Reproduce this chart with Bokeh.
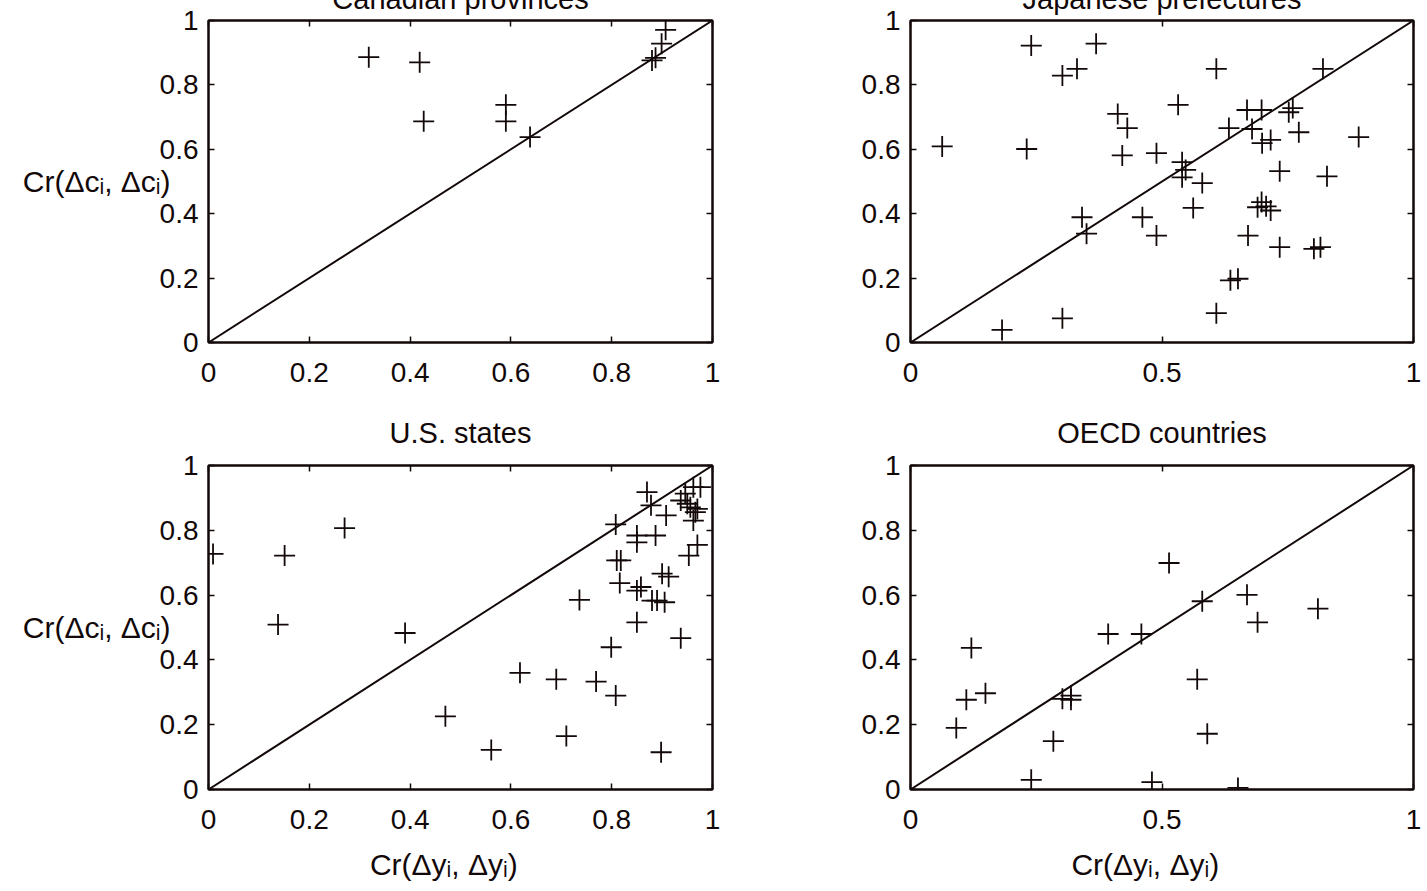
from bokeh.plotting import figure
from bokeh.models import (Range1d, FixedTicker, NumeralTickFormatter, LinearAxis,
                          CustomLabelingPolicy)
from bokeh.layouts import column, row
from bokeh.embed import file_html
from bokeh.resources import INLINE

# ---------------- data ----------------
titles = ["Canadian provinces", "Japanese prefectures", "U.S. states", "OECD countries"]
y_label = "Cr(\u0394c\u1d62, \u0394c\u1d62)"
x_label = "Cr(\u0394y\u1d62, \u0394y\u1d62)"

ticks_fine = [0, 0.2, 0.4, 0.6, 0.8, 1]
ticks_coarse = [0, 0.5, 1]

diag_x = [0, 1]
diag_y = [0, 1]

can_x = [0.318, 0.419, 0.427, 0.590, 0.590, 0.638, 0.880, 0.887, 0.899, 0.907]
can_y = [0.886, 0.870, 0.687, 0.738, 0.687, 0.638, 0.876, 0.884, 0.928, 0.971]

jp_x = [0.240, 0.369, 0.302, 0.331, 0.608, 0.820, 0.063, 0.231, 0.412, 0.431,
        0.421, 0.489, 0.532, 0.633, 0.669, 0.698, 0.679, 0.752, 0.760, 0.772,
        0.699, 0.716, 0.891, 0.540, 0.547, 0.540, 0.580, 0.734, 0.828, 0.562,
        0.698, 0.690, 0.707, 0.716, 0.341, 0.350, 0.461, 0.489, 0.671, 0.734,
        0.802, 0.815, 0.636, 0.651, 0.608, 0.182, 0.302]
jp_y = [0.922, 0.928, 0.829, 0.850, 0.850, 0.850, 0.609, 0.601, 0.710, 0.666,
        0.581, 0.588, 0.738, 0.666, 0.722, 0.722, 0.663, 0.715, 0.728, 0.653,
        0.619, 0.629, 0.638, 0.560, 0.536, 0.513, 0.495, 0.532, 0.516, 0.418,
        0.436, 0.420, 0.423, 0.410, 0.389, 0.338, 0.389, 0.332, 0.332, 0.296,
        0.291, 0.296, 0.193, 0.198, 0.091, 0.039, 0.075]

us_x = [0.009, 0.151, 0.270, 0.138, 0.390, 0.470, 0.561, 0.618, 0.690, 0.710,
        0.736, 0.769, 0.799, 0.808, 0.808, 0.810, 0.818, 0.816, 0.850, 0.850,
        0.887, 0.870, 0.878, 0.908, 0.858, 0.850, 0.880, 0.890, 0.905, 0.900,
        0.913, 0.850, 0.937, 0.898, 0.953, 0.970, 0.937, 0.946, 0.962, 0.976,
        0.956, 0.970, 0.966, 0.962, 0.950]
us_y = [0.727, 0.722, 0.807, 0.509, 0.483, 0.226, 0.122, 0.360, 0.340, 0.165,
        0.585, 0.333, 0.439, 0.290, 0.818, 0.707, 0.707, 0.637, 0.784, 0.763,
        0.784, 0.918, 0.877, 0.846, 0.625, 0.614, 0.583, 0.583, 0.578, 0.666,
        0.657, 0.516, 0.467, 0.115, 0.722, 0.755, 0.892, 0.913, 0.933, 0.933,
        0.871, 0.866, 0.856, 0.830, 0.882]

oecd_x = [0.514, 0.580, 0.669, 0.690, 0.810, 0.393, 0.459, 0.121, 0.149, 0.111,
          0.091, 0.302, 0.319, 0.319, 0.284, 0.570, 0.590, 0.240, 0.480, 0.651]
oecd_y = [0.699, 0.581, 0.601, 0.516, 0.558, 0.480, 0.480, 0.437, 0.297, 0.277,
          0.190, 0.280, 0.290, 0.277, 0.149, 0.340, 0.172, 0.030, 0.023, 0.005]

# ---------------- styling ----------------
FONT = "Liberation Sans"
INK = "#120808"
TICK_SIZE = "28px"
LABEL_SIZE = "30px"
TITLE_SIZE = "29px"
SHIFT = 40  # top row is pulled up so its titles run off the top of the page

NO_LABELS = """
const all = Array.from(indices);
for (const i of all) { indices.set(i, false); }
return indices;
"""


def make_panel(xs, ys, title, xticks, fw, fh, left, right, top, bottom,
               title_standoff, ylab=False, xlab=False):
    p = figure(frame_width=fw, frame_height=fh,
               min_border_left=left, min_border_right=right,
               min_border_top=top, min_border_bottom=bottom,
               x_range=Range1d(0, 1), y_range=Range1d(0, 1),
               output_backend="svg", toolbar_location=None,
               background_fill_color="white", border_fill_color="white")
    p.xgrid.visible = False
    p.ygrid.visible = False
    p.outline_line_color = INK
    p.outline_line_width = 2

    p.title.text = title
    p.title.align = "center"
    p.title.text_font = FONT
    p.title.text_font_size = TITLE_SIZE
    p.title.text_font_style = "normal"
    p.title.text_color = INK
    p.title.standoff = title_standoff

    # secondary axes for ticks on top/right (no labels)
    p.add_layout(LinearAxis(), "above")
    p.add_layout(LinearAxis(), "right")

    for ax in p.xaxis:
        ax.ticker = FixedTicker(ticks=xticks)
    for ax in p.yaxis:
        ax.ticker = FixedTicker(ticks=ticks_fine)
    for ax in p.axis:
        ax.formatter = NumeralTickFormatter(format="0.[0]")
        ax.axis_line_color = INK
        ax.axis_line_width = 2
        ax.major_tick_line_color = INK
        ax.major_tick_line_width = 1.5
        ax.major_tick_in = 6
        ax.major_tick_out = 0
        ax.minor_tick_line_color = None
        ax.major_label_text_font = FONT
        ax.major_label_text_font_size = TICK_SIZE
        ax.major_label_text_color = INK
        ax.axis_label_text_font = FONT
        ax.axis_label_text_font_size = LABEL_SIZE
        ax.axis_label_text_font_style = "normal"
        ax.axis_label_text_color = INK
    p.below[0].major_label_standoff = 20
    p.left[0].major_label_standoff = 10
    for ax in (p.above[0], p.right[0]):
        ax.major_label_text_font_size = "1px"
        ax.major_label_standoff = 0
        ax.major_label_policy = CustomLabelingPolicy(code=NO_LABELS)

    if ylab:
        p.left[0].axis_label = y_label
        p.left[0].axis_label_orientation = "horizontal"
        p.left[0].axis_label_standoff = -14
    if xlab:
        p.below[0].axis_label = x_label + "\u00a0" * 4
        p.below[0].axis_label_standoff = 16

    p.line(diag_x, diag_y, line_color=INK, line_width=2)
    p.scatter(xs, ys, marker="cross", size=21, line_color=INK, line_width=1.8)
    return p


p1 = make_panel(can_x, can_y, titles[0], ticks_fine, 504, 322, 208, 48, 20 + SHIFT, 58,
                title_standoff=4, ylab=True)
p2 = make_panel(jp_x, jp_y, titles[1], ticks_coarse, 503, 322, 150, 14, 20 + SHIFT, 58,
                title_standoff=4)
p3 = make_panel(us_x, us_y, titles[2], ticks_fine, 504, 324, 208, 48, 65, 94,
                title_standoff=25, ylab=True, xlab=True)
p4 = make_panel(oecd_x, oecd_y, titles[3], ticks_coarse, 503, 324, 150, 14, 65, 94,
                title_standoff=25, xlab=True)

top_row = row(p1, p2, margin=(-SHIFT, 0, 0, 0))
bottom_row = row(p3, p4)
layout = column(top_row, bottom_row)

open("out.html", "w").write(file_html(layout, INLINE))
